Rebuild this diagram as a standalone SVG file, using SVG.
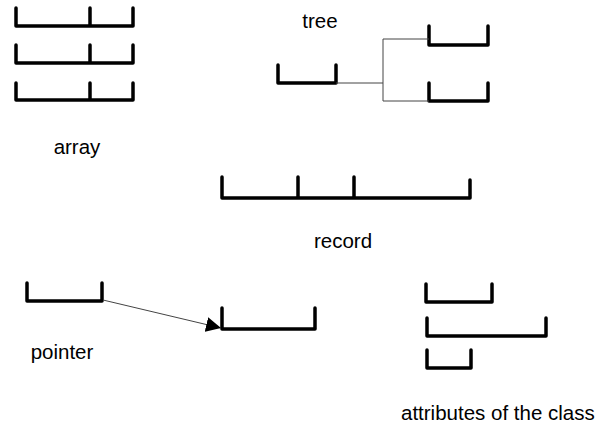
<svg xmlns="http://www.w3.org/2000/svg" width="600" height="428" viewBox="0 0 600 428">
<style>
.b{fill:none;stroke:#000;stroke-width:3.5;stroke-linecap:round;stroke-linejoin:round}
.c{fill:none;stroke:#444;stroke-width:1}
.t{font-family:"Liberation Sans",Arial,sans-serif;font-size:20.5px;fill:#000}
</style>
<defs>
<marker id="ah" viewBox="0 0 10 10" refX="10" refY="5" markerWidth="15" markerHeight="15" markerUnits="userSpaceOnUse" orient="auto"><path d="M0,0 L10,5 L0,10 Z" fill="#000"/></marker>
</defs>
<rect width="600" height="428" fill="#fff"/>
<g id="array">
<path class="b" d="M16,8 V26 H133 V8 M90,8 V26"/>
<path class="b" d="M16,45 V63 H133 V45 M90,45 V63"/>
<path class="b" d="M16,83 V100 H133 V83 M90,83 V100"/>
<text class="t" x="77" y="154" text-anchor="middle">array</text>
</g>
<g id="tree">
<text class="t" x="320" y="28" text-anchor="middle">tree</text>
<g id="tree-root"><path class="b" d="M278,65 V83 H336 V65"/></g>
<g id="tree-child1"><path class="b" d="M429,26 V45 H488 V26"/></g>
<g id="tree-child2"><path class="b" d="M429,83 V101 H488 V83"/></g>
</g>
<g id="record">
<path class="b" d="M222,177 V198 H470 V180 M298,177 V198 M354,177 V198"/>
<text class="t" x="343" y="248" text-anchor="middle">record</text>
</g>
<g id="pointer">
<path class="b" d="M27,283 V301 H102 V283"/>
<text class="t" x="62" y="359" text-anchor="middle">pointer</text>
</g>
<g id="pointee">
<path class="b" d="M222,308 V329 H315 V308"/>
</g>
<g id="attributes">
<path class="b" d="M426,284 V302 H492 V284"/>
<path class="b" d="M427,318 V336 H546 V318"/>
<path class="b" d="M427,350 V368 H471 V350"/>
<text class="t" x="401" y="420">attributes of the class</text>
</g>
<g id="connectors">
<path class="c" d="M336,83 H383 M383,39 V101 M383,39 H429 M383,101 H429"/>
<path class="c" stroke="#000" d="M103,300 L221,328" marker-end="url(#ah)"/>
</g>
</svg>
